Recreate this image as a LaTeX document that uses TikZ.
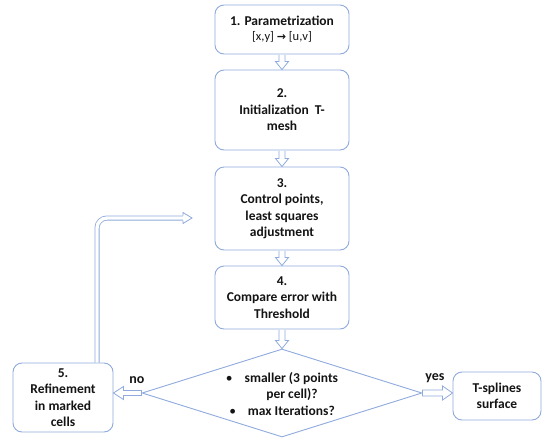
\documentclass[tikz,border=0pt]{standalone}
\usepackage{fontspec}
\setmainfont{Carlito}
\newfontfamily\symfont{DejaVu Sans}
\usetikzlibrary{shapes.geometric,calc}
\definecolor{edge}{RGB}{143,170,220}
\definecolor{ink}{RGB}{20,20,20}
\tikzset{
 box/.style={draw=edge, line width=0.9pt, rounded corners=9pt, fill=white, text=ink,
   font=\bfseries\fontsize{13.5}{16.5}\selectfont, align=center, inner sep=0pt},
 harrow/.style={draw=edge, line width=0.8pt, fill=white, line join=miter},
 lbl/.style={text=ink, font=\bfseries\fontsize{14}{16}\selectfont, inner sep=0pt},
 dia/.style={draw=edge, line width=0.9pt, shape=diamond, inner sep=0pt},
}
\newcommand\varrow[2]{\draw[harrow] let \p1=(#1.south), \p2=(#2.north) in
  (\x1-3pt,\y1-0.5pt) -- (\x1-3pt,\y2+8pt) -- (\x1-6.5pt,\y2+8pt) -- (\x1,\y2)
  -- (\x1+6.5pt,\y2+8pt) -- (\x1+3pt,\y2+8pt) -- (\x1+3pt,\y1-0.5pt);}
\begin{document}
\begin{tikzpicture}[x=1pt,y=-1pt]
\useasboundingbox (0,0) rectangle (550,448);
\node[box, minimum width=134pt, minimum height=49pt] (b1) at (282,29.5)
  {1. Parametrization\\[-2pt]{\mdseries\fontsize{12.5}{14}\selectfont [x,y] {\symfont\bfseries\fontsize{11}{14}\selectfont→} [u,v]}};
\node[box, minimum width=134pt, minimum height=80pt] (b2) at (282,110)
  {2.\\Initialization~ T-\\mesh};
\node[box, minimum width=134pt, minimum height=83pt] (b3) at (282,208.5)
  {3.\\Control points,\\least squares\\adjustment};
\node[box, minimum width=134pt, minimum height=63pt] (b4) at (282,297.5)
  {4.\\Compare error with\\Threshold};
\node[dia, minimum width=280pt, minimum height=88pt] (d) at (282,393) {};
\node[text=ink, font=\bfseries\fontsize{13.5}{16.5}\selectfont, align=center, inner sep=0pt] (dt) at (282,394)
  {{\mdseries\textbullet}\hspace{12pt}smaller (3 points\\\hspace*{20pt}per cell)?\\{\mdseries\textbullet}\hspace{12pt}max Iterations?};
\node[box, minimum width=100pt, minimum height=69pt] (b5) at (63,397.5)
  {5.\\Refinement\\in marked\\cells};
\node[box, minimum width=88pt, minimum height=48pt] (ts) at (497,396)
  {T-splines\\surface};
\coordinate (loopend) at (192,218);
\varrow{b1}{b2}
\varrow{b2}{b3}
\varrow{b3}{b4}
\varrow{b4}{d}
% no arrow
\draw[harrow] let \p1=(d.west), \p2=(b5.east) in
  (\x1,\y1+2.5pt) -- (\x2+10pt,\y1+2.5pt) -- (\x2+10pt,\y1+6.5pt) -- (\x2,\y1)
  -- (\x2+10pt,\y1-6.5pt) -- (\x2+10pt,\y1-2.5pt) -- (\x1,\y1-2.5pt) -- cycle;
% yes arrow
\draw[harrow] let \p1=(d.east), \p2=(ts.west) in
  (\x1,\y1+3pt) -- (\x2-10pt,\y1+3pt) -- (\x2-10pt,\y1+7pt) -- (\x2,\y1)
  -- (\x2-10pt,\y1-7pt) -- (\x2-10pt,\y1-3pt) -- (\x1,\y1-3pt) -- cycle;
% loop arrow: double shaft with rounded corner, then hollow head
\draw[draw=edge, line width=0.8pt, double=white, double distance=3.4pt, rounded corners=10pt]
  let \p1=([xshift=34pt]b5.north), \p2=(loopend) in
  (\x1,\y1) -- (\x1,\y2) -- (\x2-9pt,\y2);
\draw[harrow] let \p2=(loopend) in
  (\x2-9pt,\y2+2.5pt) -- (\x2-9pt,\y2+5.5pt) -- (\x2,\y2) -- (\x2-9pt,\y2-5.5pt) -- (\x2-9pt,\y2-2.5pt);
\node[lbl] (no) at (137,380) {no};
\node[lbl] (yes) at (435,378) {yes};
\end{tikzpicture}
\end{document}
